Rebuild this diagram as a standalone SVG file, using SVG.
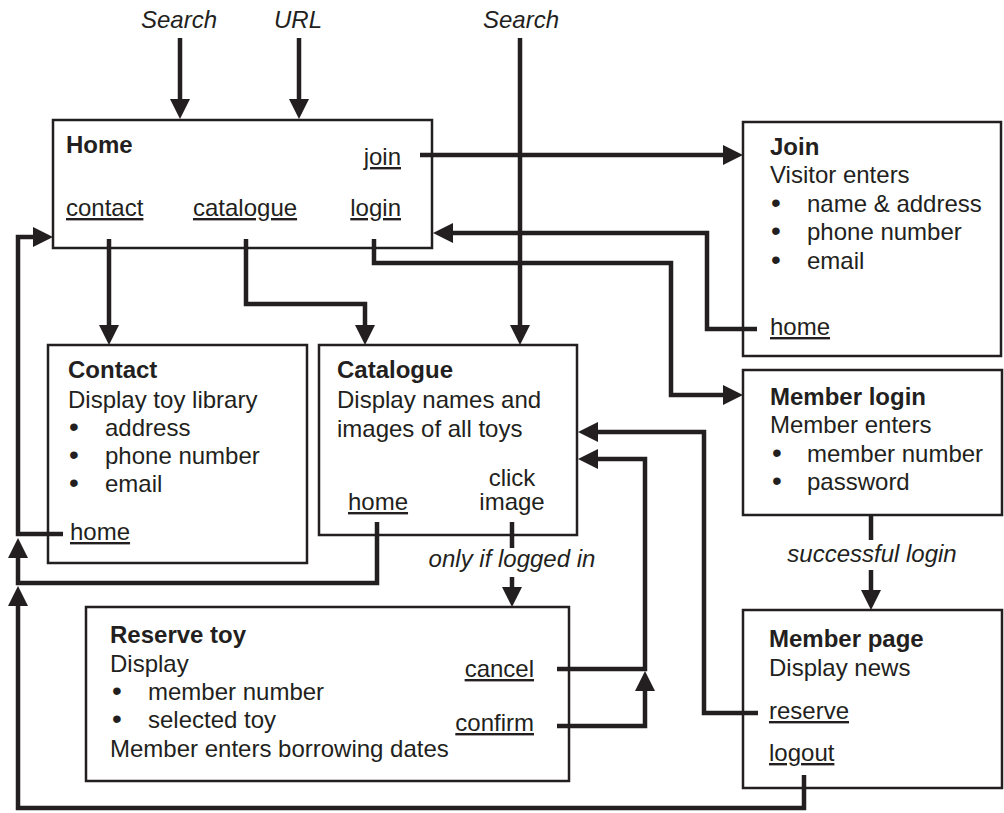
<svg xmlns="http://www.w3.org/2000/svg" width="1004" height="813" viewBox="0 0 1004 813">
<style>
text{font-family:"Liberation Sans",Arial,sans-serif;font-size:24px;fill:#231f20}
.b{font-weight:bold}
.i{font-style:italic}
.u{text-decoration:underline}
.m{text-anchor:middle}
.e{text-anchor:end}
.bl{font-size:28px}
.box{fill:#fff;stroke:#231f20;stroke-width:2.5}
.c{fill:none;stroke:#231f20;stroke-width:4.5;stroke-linejoin:miter;stroke-linecap:butt}
.a{marker-end:url(#ah)}
</style>
<defs>
<marker id="ah" markerUnits="userSpaceOnUse" markerWidth="20" markerHeight="20" refX="10" refY="10" orient="auto">
<path d="M0,0 L20,10 L0,20 z" fill="#231f20"/>
</marker>
</defs>
<rect width="1004" height="813" fill="#fff"/>

<g id="home">
<rect class="box" x="53" y="120" width="379" height="128"/>
<text class="b" x="66" y="153">Home</text>
<text class="u e" x="401" y="165">join</text>
<text class="u" x="66" y="216">contact</text>
<text class="u" x="193" y="216">catalogue</text>
<text class="u e" x="401" y="216">login</text>
</g>

<g id="contact">
<rect class="box" x="48" y="345" width="259" height="218"/>
<text class="b" x="68" y="378">Contact</text>
<text x="68" y="408">Display toy library</text>
<text class="bl" x="69" y="436">•</text><text x="105" y="436">address</text>
<text class="bl" x="69" y="464">•</text><text x="105" y="464">phone number</text>
<text class="bl" x="69" y="492">•</text><text x="105" y="492">email</text>
<text class="u" x="70" y="540">home</text>
</g>

<g id="catalogue">
<rect class="box" x="319" y="345" width="258" height="190"/>
<text class="b" x="337" y="378">Catalogue</text>
<text x="337" y="408">Display names and</text>
<text x="337" y="437">images of all toys</text>
<text class="m" x="512" y="486">click</text>
<text class="m" x="512" y="510">image</text>
<text class="u" x="348" y="510">home</text>
</g>

<g id="join">
<rect class="box" x="743" y="122" width="258" height="234"/>
<text class="b" x="770" y="155">Join</text>
<text x="770" y="183">Visitor enters</text>
<text class="bl" x="771" y="212">•</text><text x="807" y="212">name &amp; address</text>
<text class="bl" x="771" y="240">•</text><text x="807" y="240">phone number</text>
<text class="bl" x="771" y="269">•</text><text x="807" y="269">email</text>
<text class="u" x="770" y="335">home</text>
</g>

<g id="memberlogin">
<rect class="box" x="743" y="370" width="259" height="145"/>
<text class="b" x="770" y="405">Member login</text>
<text x="770" y="433">Member enters</text>
<text class="bl" x="772" y="462">•</text><text x="807" y="462">member number</text>
<text class="bl" x="772" y="490">•</text><text x="807" y="490">password</text>
</g>

<g id="memberpage">
<rect class="box" x="743" y="610" width="259" height="178"/>
<text class="b" x="769" y="647">Member page</text>
<text x="769" y="676">Display news</text>
<text class="u" x="769" y="719">reserve</text>
<text class="u" x="769" y="761">logout</text>
</g>

<g id="reservetoy">
<rect class="box" x="86" y="607" width="483" height="174"/>
<text class="b" x="110" y="643">Reserve toy</text>
<text x="110" y="672">Display</text>
<text class="bl" x="112" y="700">•</text><text x="148" y="700">member number</text>
<text class="bl" x="112" y="728">•</text><text x="148" y="728">selected toy</text>
<text x="110" y="757">Member enters borrowing dates</text>
<text class="u e" x="534" y="677">cancel</text>
<text class="u e" x="534" y="731">confirm</text>
</g>

<g id="connectors">
<path class="c a" d="M180,38 V109"/>
<path class="c a" d="M299,38 V109"/>
<path class="c a" d="M520,38 V335"/>
<path class="c a" d="M420,155 H733"/>
<path class="c a" d="M109,239 V335"/>
<path class="c a" d="M246,239 V304 H365 V335"/>
<path class="c a" d="M374,239 V263 H671 V395 H733"/>
<path class="c a" d="M757,329 H707 V233 H443"/>
<path class="c a" d="M63,534 H18 V237 H43"/>
<path class="c a" d="M377,522 V583 H18 V548"/>
<path class="c a" d="M804,775 V808 H18 V596"/>
<path class="c" d="M512,522 V548"/>
<path class="c a" d="M512,577 V597"/>
<path class="c" d="M871,515 V540"/>
<path class="c a" d="M871,570 V600"/>
<path class="c a" d="M758,713 H704 V432 H588"/>
<path class="c a" d="M557,669 H645 V459 H588"/>
<path class="c a" d="M557,726 H645 V681"/>
<text class="i m" x="179" y="28">Search</text>
<text class="i m" x="298" y="28">URL</text>
<text class="i m" x="521" y="28">Search</text>
<text class="i m" x="512" y="567">only if logged in</text>
<text class="i m" x="872" y="562">successful login</text>
</g>
</svg>
